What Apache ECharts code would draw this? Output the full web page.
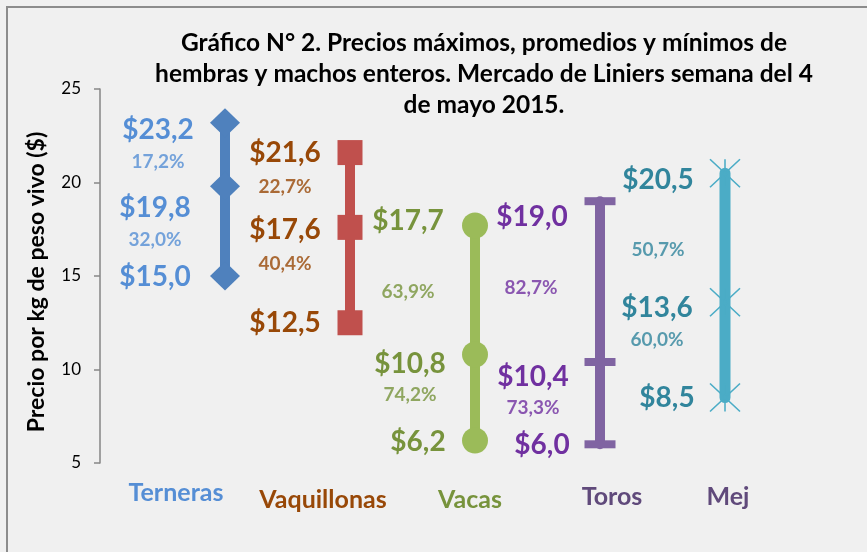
<!DOCTYPE html>
<html>
<head>
<meta charset="utf-8">
<script src="https://cdn.jsdelivr.net/npm/echarts@6/dist/echarts.min.js"></script>
<style>
  html, body { margin: 0; padding: 0; background: #f0f0f0; }
  #chart { width: 867px; height: 552px; }
</style>
</head>
<body>
<div id="chart"></div>
<script>
// datos
const categories = ['Terneras', 'Vaquillonas', 'Vacas', 'Toros', 'Mej']
const maximos = [23.2, 21.6, 17.7, 19.0, 20.5]
const promedios = [19.8, 17.6, 10.8, 10.4, 13.6]
const minimos = [15.0, 12.5, 6.2, 6.0, 8.5]
const pctSuperior = [17.2, 22.7, 63.9, 82.7, 50.7]
const pctInferior = [32.0, 40.4, 74.2, 73.3, 60.0]
const yTicks = [5, 10, 15, 20, 25]
const yName = 'Precio por kg de peso vivo ($)'

// estilos
const lineColors = ['#4f81bd', '#c0504d', '#9bbb59', '#8064a2', '#4bacc6']
const labelColors = ['#558ed5', '#984807', '#77933c', '#7030a0', '#31859c']
const catColors = ['#558ed5', '#984807', '#77933c', '#604a7b', '#604a7b']
const symbols = ['diamond', 'rect', 'circle', 'rect', 'path://M0,0L20,20M20,0L0,20M10,0L10,20']
const symbolSizes = [[30, 29], [25, 25], [26, 26], [31, 8], [30, 28]]
const valueOffsets = [
  [[-67, 7], [-70, 22], [-70, 1]],
  [[-65, 0], [-65, 3], [-65, 0]],
  [[-67, -5], [-65, 9], [-57, 1]],
  [[-68, 16], [-67, 15], [-58, 1]],
  [[-67, 7], [-68, 6], [-58, 0]]
]
const pctOffsets = [
  [[-67, 39], [-70, 54]],
  [[-65, 34], [-65, 36]],
  [[-67, 66], [-65, 40]],
  [[-69, 87], [-67, 46]],
  [[-67, 77], [-68, 38]]
]
const catLabelPos = [[176, 493], [323, 500], [470, 500], [612, 497], [728, 497]]
const FONT = 'Lato'

const fmt = v => v.toFixed(1).replace('.', ',')

let series = []
categories.forEach((cat, i) => {
  let vals = [maximos[i], promedios[i], minimos[i]]
  let isX = i === 4
  series.push({
    name: cat,
    type: 'line',
    symbol: symbols[i],
    symbolSize: symbolSizes[i],
    itemStyle: isX
      ? { color: 'none', borderColor: lineColors[i], borderWidth: 1.5 }
      : { color: lineColors[i] },
    lineStyle: { color: lineColors[i], width: isX ? 11 : 10, cap: (i >= 3) ? 'round' : 'butt' },
    label: {
      show: true,
      position: 'inside',
      color: labelColors[i],
      fontFamily: FONT,
      fontWeight: 'bold',
      fontSize: 28,
      formatter: p => '$' + fmt(p.value[1])
    },
    emphasis: { disabled: true },
    data: vals.map((v, k) => ({ value: [i + 1, v], label: { offset: valueOffsets[i][k] } }))
  })
  series.push({
    name: cat + ' %',
    type: 'scatter',
    symbolSize: 1,
    itemStyle: { color: 'rgba(0,0,0,0)' },
    label: {
      show: true,
      position: 'inside',
      color: labelColors[i],
      fontFamily: FONT,
      fontWeight: 'bold',
      fontSize: 19
    },
    emphasis: { disabled: true },
    data: [
      { value: [i + 1, maximos[i]], label: { offset: pctOffsets[i][0], formatter: fmt(pctSuperior[i]) + '%' } },
      { value: [i + 1, promedios[i]], label: { offset: pctOffsets[i][1], formatter: fmt(pctInferior[i]) + '%' } }
    ]
  })
})

let graphic = [{
  type: 'rect',
  shape: { x: 7, y: 7, width: 900, height: 600 },
  style: { fill: 'none', stroke: '#8c8c8c', lineWidth: 2 },
  silent: true
}, {
  // titulo del eje Y
  type: 'text',
  x: 37,
  y: 282,
  rotation: Math.PI / 2,
  style: {
    text: yName,
    fill: '#000',
    font: 'bold 23px ' + FONT,
    align: 'center',
    verticalAlign: 'middle'
  }
}]
categories.forEach((cat, i) => {
  graphic.push({
    type: 'text',
    x: catLabelPos[i][0],
    y: catLabelPos[i][1],
    style: {
      text: cat,
      fill: catColors[i],
      font: 'bold 25px ' + FONT,
      align: 'center',
      verticalAlign: 'middle'
    }
  })
})

let myChart = echarts.init(document.getElementById('chart'))
myChart.setOption({
  backgroundColor: '#f0f0f0',
  animation: false,
  title: {
    text: 'Gráfico N° 2. Precios máximos, promedios y mínimos de\nhembras y machos enteros. Mercado de Liniers semana del 4\nde mayo 2015.',
    left: 479,
    top: 23,
    textAlign: 'center',
    textStyle: {
      color: '#000',
      fontFamily: FONT,
      fontWeight: 'bold',
      fontSize: 24.5,
      lineHeight: 31
    }
  },
  grid: {
    left: 100,
    right: 79.5,
    top: 89,
    bottom: 89
  },
  xAxis: {
    type: 'value',
    min: 0,
    max: 5.5,
    show: false
  },
  yAxis: {
    type: 'value',
    min: yTicks[0],
    max: yTicks[yTicks.length - 1],
    interval: 5,
    axisLine: { show: true, lineStyle: { color: '#868686', width: 1.5 } },
    axisTick: { show: true, length: 6, lineStyle: { color: '#868686', width: 1.5 } },
    splitLine: { show: false },
    axisLabel: {
      color: '#000',
      fontFamily: FONT,
      fontSize: 17,
      margin: 19
    }
  },
  graphic: graphic,
  series: series
})
</script>
</body>
</html>
